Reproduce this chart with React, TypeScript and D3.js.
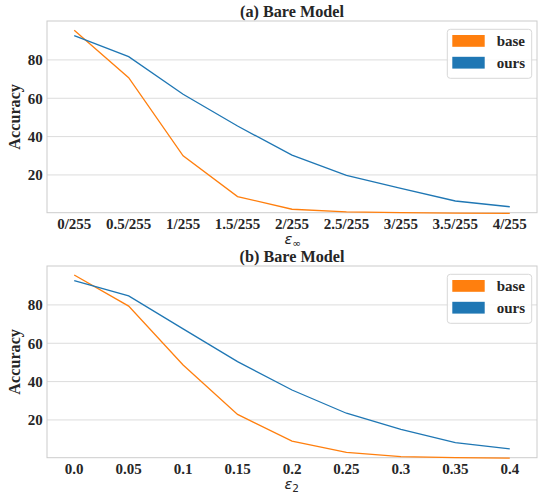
import React from "react";
import * as d3 from "d3";

const labelsA = ["0/255", "0.5/255", "1/255", "1.5/255", "2/255", "2.5/255", "3/255", "3.5/255", "4/255"];
const baseA = [95.5, 70.7, 30.0, 8.7, 2.1, 0.7, 0.3, 0.1, 0.0];
const oursA = [92.7, 81.7, 62.1, 45.5, 30.3, 19.8, 13.0, 6.4, 3.4];

const labelsB = ["0.0", "0.05", "0.1", "0.15", "0.2", "0.25", "0.3", "0.35", "0.4"];
const baseB = [95.6, 79.4, 48.7, 22.9, 9.0, 3.1, 0.9, 0.3, 0.1];
const oursB = [92.7, 84.7, 67.5, 50.4, 35.6, 23.5, 15.1, 8.2, 4.9];

const yTicks = [20, 40, 60, 80];
const seriesNames = ["base", "ours"];
const colors = ["#ff7f0e", "#1f77b4"];

const W = 538;
const H = 493;
const left = 47;
const right = 537;
const serif = "'Liberation Serif', 'Times New Roman', serif";
const textColor = "#262626";

function Panel({ top, title, labels, base, ours, sub }: any) {
  const bottom = top + 191.7;
  const x = d3.scaleLinear().domain([-0.5, labels.length - 0.5]).range([left, right]);
  const y = d3.scaleLinear().domain([0.3, 100.3]).range([bottom, top]);
  const line = d3
    .line<number>()
    .x((_, i) => x(i))
    .y((d) => y(d));
  const series = [base, ours];
  return (
    <g>
      <text x={(left + right) / 2} y={top - 4} textAnchor="middle" fontFamily={serif} fontWeight="bold" fontSize={16.2} fill={textColor}>
        {title}
      </text>
      {yTicks.map((t) => (
        <g key={t}>
          <line x1={left} x2={right} y1={y(t)} y2={y(t)} stroke="#dcdcdc" strokeWidth={1} />
          <text x={left - 4.3} y={y(t)} dy="0.35em" textAnchor="end" fontFamily={serif} fontWeight="bold" fontSize={15} fill={textColor}>
            {t}
          </text>
        </g>
      ))}
      <rect x={left} y={top} width={right - left} height={bottom - top} fill="none" stroke="#cccccc" strokeWidth={1} />
      {series.map((s: number[], k: number) => (
        <path key={k} d={line(s) || ""} fill="none" stroke={colors[k]} strokeWidth={1.3} />
      ))}
      {labels.map((l: string, i: number) => (
        <text key={l} x={x(i)} y={bottom + 16.5} textAnchor="middle" fontFamily={serif} fontWeight="bold" fontSize={15} fill={textColor}>
          {l}
        </text>
      ))}
      <text x={284.5} y={bottom + 31} fontFamily="'DejaVu Sans', sans-serif" fontStyle="italic" fontSize={14.5} fill={textColor}>
        ε
        <tspan fontSize={10.5} dy={3} fontStyle="normal">{sub}</tspan>
      </text>
      <text
        transform={`translate(${20},${(top + bottom) / 2}) rotate(-90)`}
        textAnchor="middle"
        fontFamily={serif}
        fontWeight="bold"
        fontSize={16.2}
        fill={textColor}
      >
        Accuracy
      </text>
      <g>
        <rect x={447.3} y={top + 8.3} width={84.4} height={49} rx={3} fill="white" fillOpacity={0.85} stroke="#d8d8d8" strokeWidth={1} />
        {seriesNames.map((n, k) => (
          <g key={n}>
            <rect x={452.3} y={top + 14 + k * 21.8} width={32.4} height={11.8} fill={colors[k]} />
            <text x={496.7} y={top + 20 + k * 21.8} dy="0.35em" fontFamily={serif} fontWeight="bold" fontSize={15} fill={textColor}>
              {n}
            </text>
          </g>
        ))}
      </g>
    </g>
  );
}

export default function App() {
  return (
    <svg width={W} height={H} style={{ position: "absolute", left: 0, top: 0, background: "white" }}>
      <Panel top={21} title="(a) Bare Model" labels={labelsA} base={baseA} ours={oursA} sub="∞" />
      <Panel top={266} title="(b) Bare Model" labels={labelsB} base={baseB} ours={oursB} sub="2" />
    </svg>
  );
}
